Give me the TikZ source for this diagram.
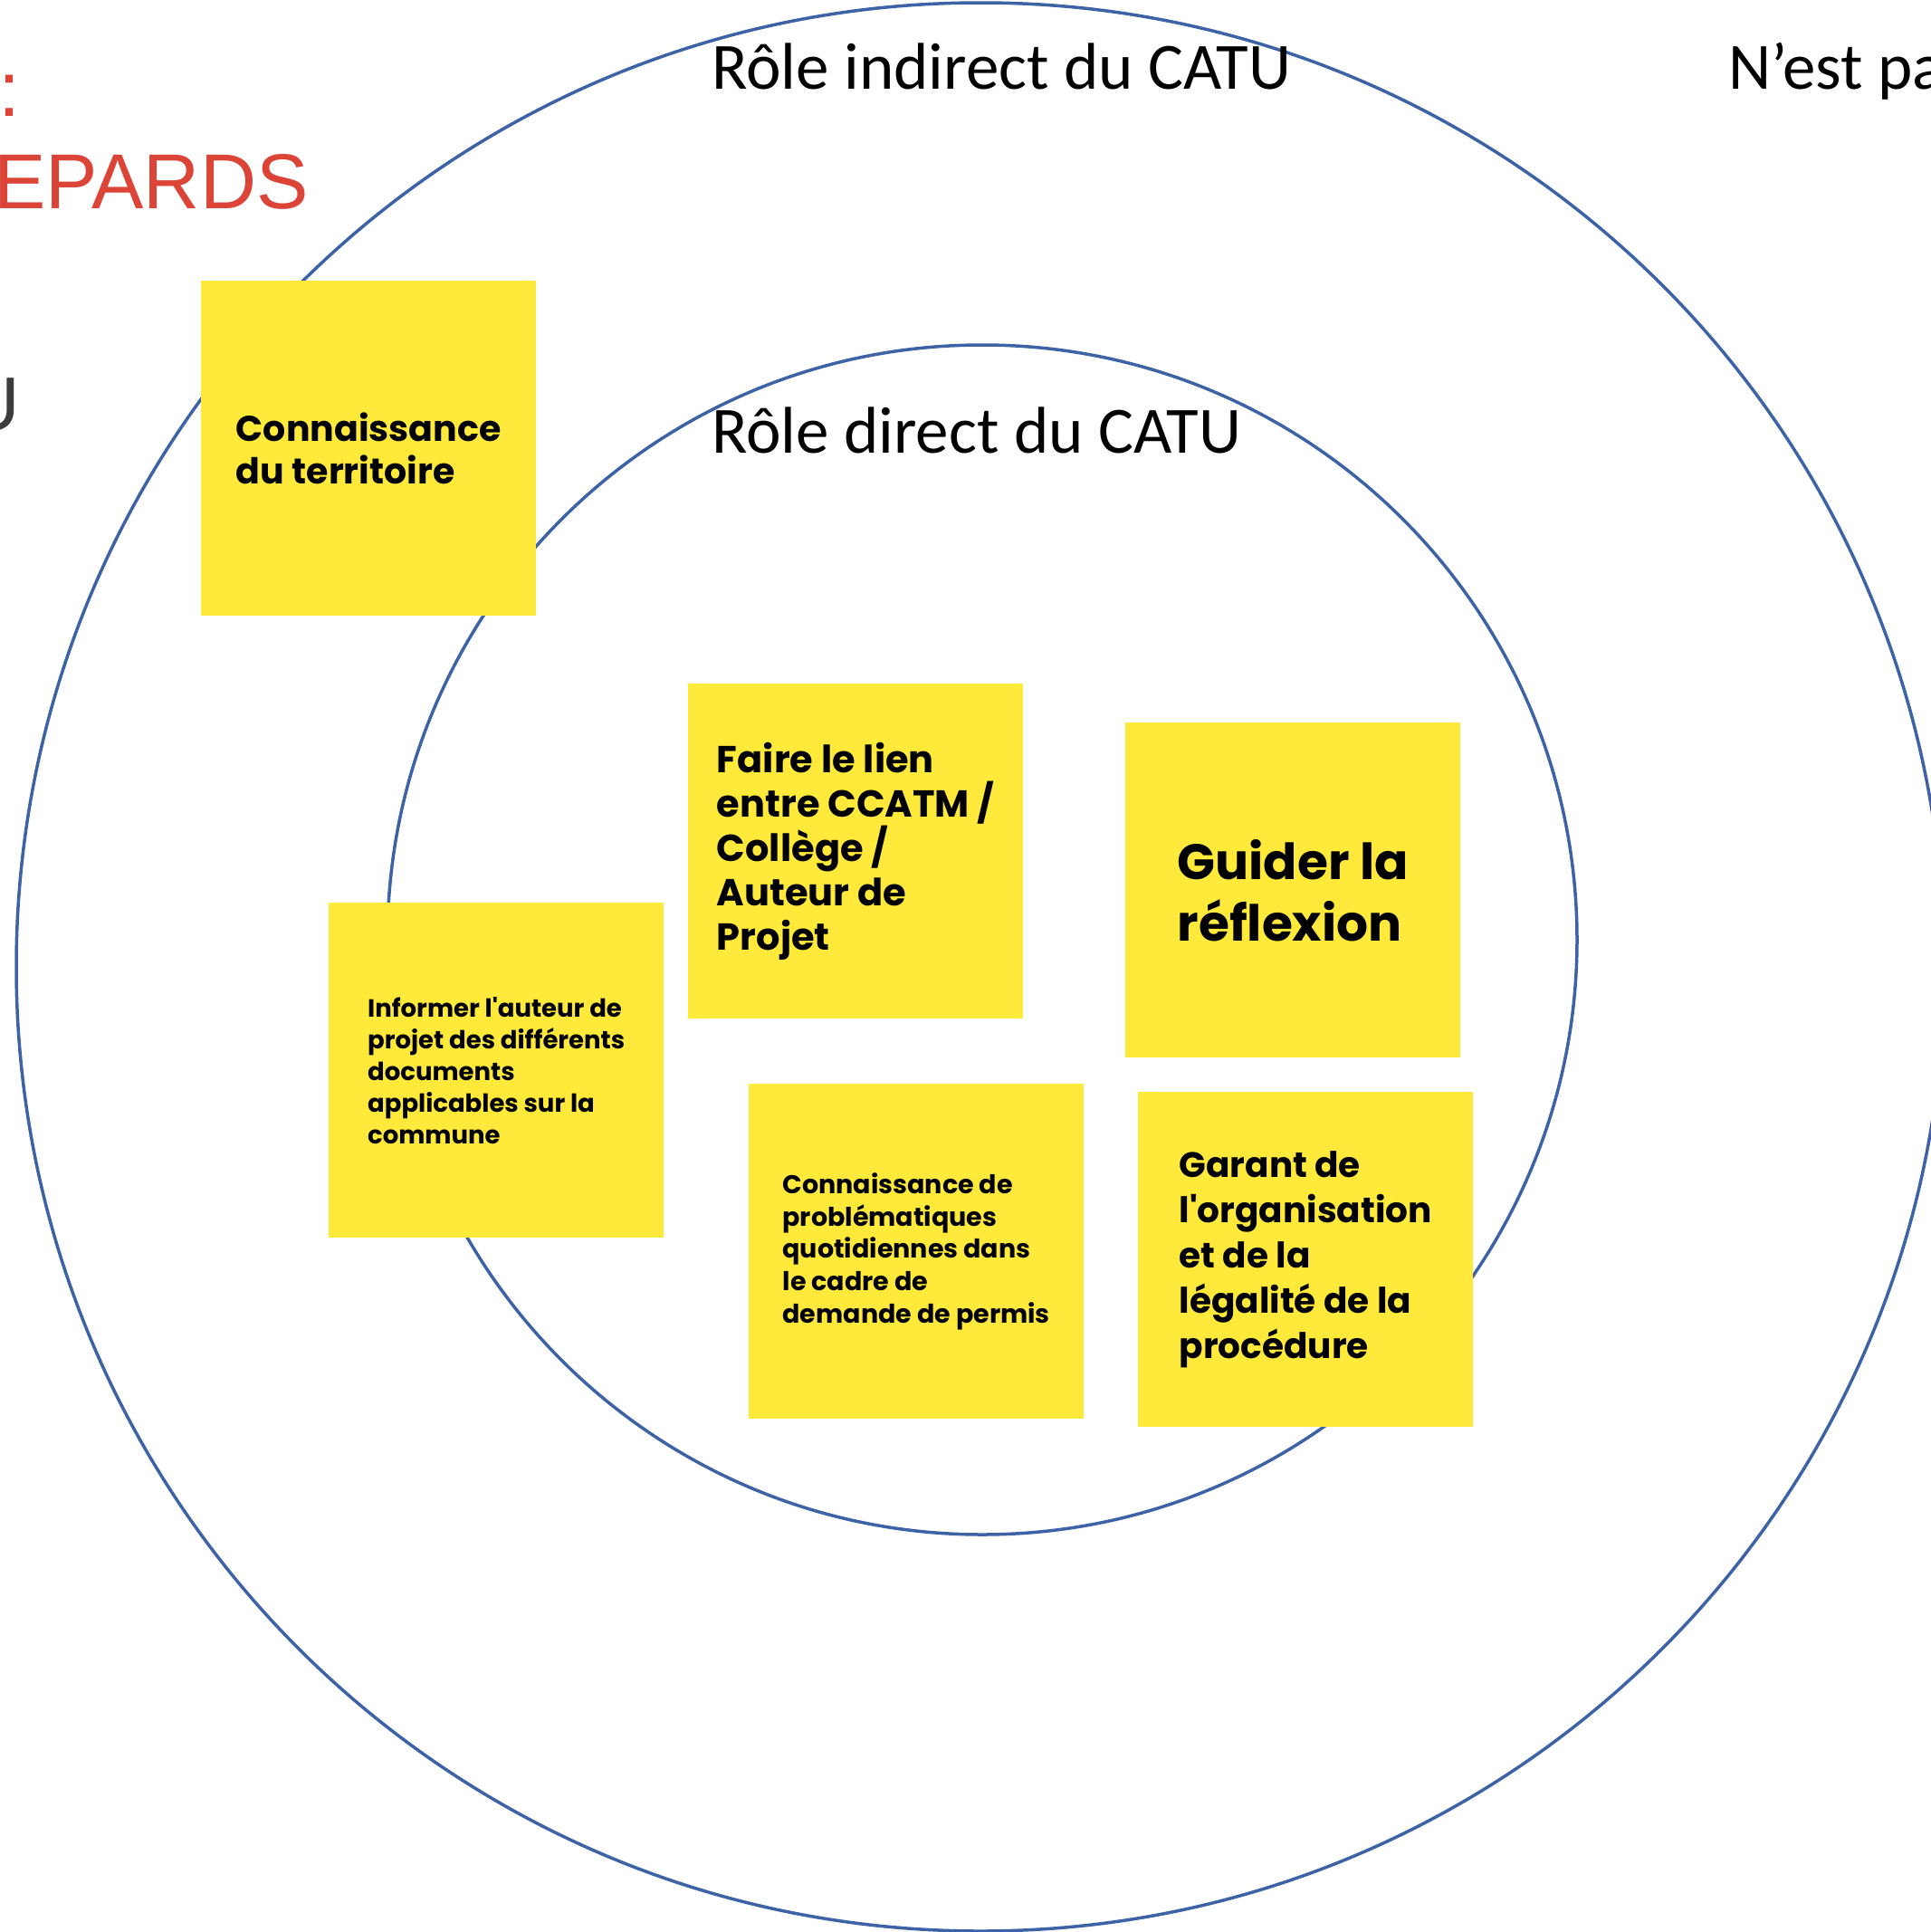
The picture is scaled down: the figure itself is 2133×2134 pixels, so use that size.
\documentclass[tikz,border=0pt]{standalone}
\usepackage{fontspec}
\setmainfont{Liberation Sans}
\newfontfamily\calibri{Carlito}
\newfontfamily\stickyfont{Poppins}
\usetikzlibrary{positioning}

\definecolor{ringblue}{HTML}{3D63A6}
\definecolor{postit}{HTML}{FFE93B}
\definecolor{titlered}{HTML}{DB4437}
\definecolor{darkgrey}{HTML}{3C3C3C}

\tikzstyle{ring} = [draw=ringblue, line width=3.5pt]
\tikzstyle{note} = [fill=postit, anchor=north west, minimum width=370pt, minimum height=370pt, inner sep=0pt, align=left]
\tikzstyle{role} = [anchor=base west, inner sep=0pt, font=\calibri\fontsize{73}{86}\selectfont]
\tikzstyle{edge} = [anchor=base west, inner sep=0pt]

\begin{document}
\begin{tikzpicture}[x=1pt, y=-1pt]
    \useasboundingbox (0,0) rectangle (2133,2134);
    \clip (0,0) rectangle (2133,2134);

    % circles
    \draw [ring] (1083,1068) circle [radius=1065pt];
    \draw [ring] (1085,1038) circle [radius=657pt];

    % cut-off texts at the edges
    \node (colon) [edge, text=titlered, font=\fontsize{86}{100}\selectfont] at (-2,128) {:};
    \node (epards) [edge, text=titlered, font=\fontsize{86}{100}\selectfont] at (-7,230) {EPARDS};
    \node (catu) [edge, text=darkgrey, font=\fontsize{84}{100}\selectfont] at (-39,475) {U};
    \node (horsrole) [role] at (1909,98) {N’est pas};

    \node (indirect) [role] at (786,98) {Rôle indirect du CATU};
    \node (direct) [role] at (786,500) {Rôle direct du CATU};

    % sticky notes
    \node (territoire) [note, font=\stickyfont\bfseries\fontsize{39.5}{47}\selectfont] at (222,310) {Connaissance\\du territoire};
    \node (lien) [note, font=\stickyfont\bfseries\fontsize{41.5}{49}\selectfont] at (760,755) {Faire le lien\\entre CCATM /\\Collège /\\Auteur de\\Projet};
    \node (reflexion) [note, font=\stickyfont\bfseries\fontsize{55}{68}\selectfont] at (1243,798) {Guider la\\réflexion};
    \node (informer) [note, font=\stickyfont\bfseries\fontsize{27.5}{35}\selectfont] at (363,997) {Informer l'auteur de\\projet des différents\\documents\\applicables sur la\\commune};
    \node (problemes) [note, font=\stickyfont\bfseries\fontsize{28.5}{35.7}\selectfont] at (827,1197) {Connaissance de\\problématiques\\quotidiennes dans\\le cadre de\\demande de permis};
    \node (garant) [note, font=\stickyfont\bfseries\fontsize{39}{50}\selectfont] at (1257,1206) {Garant de\\l'organisation\\et de la\\légalité de la\\procédure};
\end{tikzpicture}
\end{document}
